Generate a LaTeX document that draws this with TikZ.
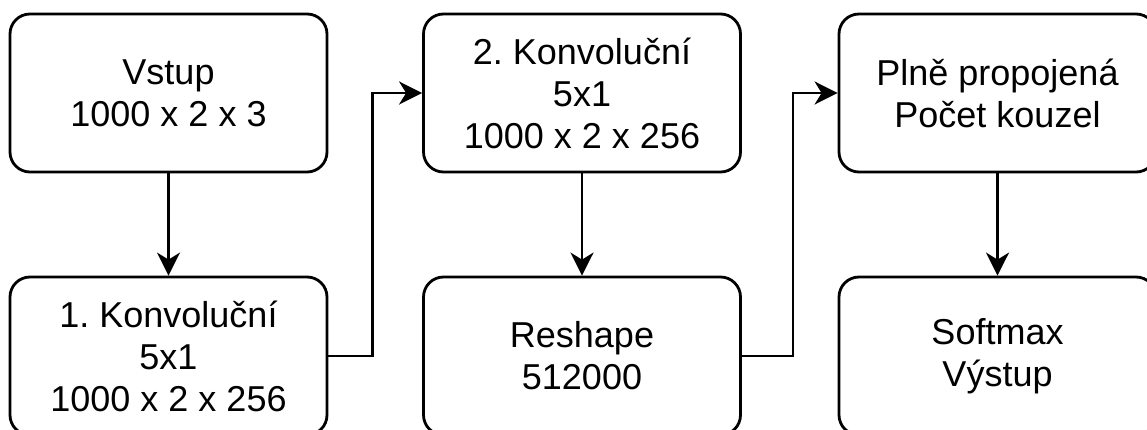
\documentclass[tikz,border=0pt]{standalone}
\usepackage{fontspec}
\setmainfont{Liberation Sans}
\usetikzlibrary{arrows.meta,positioning}
\frenchspacing

\tikzset{
    layer/.style={draw, line width=2.8pt, rounded corners=20pt, fill=white,
        minimum width=317pt, minimum height=158pt, align=center,
        font=\fontsize{36}{42}\selectfont},
    flow/.style={-{Stealth[length=23pt, width=23pt, inset=7pt]}, line width=2.8pt}
}

\begin{document}
\begin{tikzpicture}[x=1pt, y=-1pt]
    % výřez obrázku
    \clip (0,0) rectangle (1147,430);
    \fill[white] (0,0) rectangle (1147,430);

    \node[layer] (vstup) at (168.5,93) {Vstup\\1000 x 2 x 3};
    \node[layer] (konv1) at (168.5,356) {1. Konvoluční\\5x1\\1000 x 2 x 256};
    \node[layer] (konv2) at (582,93) {2. Konvoluční\\5x1\\1000 x 2 x 256};
    \node[layer] (reshape) at (582,356) {Reshape\\512000};
    \node[layer] (plne) at (997.5,93) {Plně propojená\\Počet kouzel};
    \node[layer] (softmax) at (997.5,356) {Softmax\\Výstup};

    \draw[flow] (vstup) -- (konv1);
    \draw[flow] (konv1.east) -- ++(44,0) |- (konv2.west);
    \draw[flow] (konv2) -- (reshape);
    \draw[flow] (reshape.east) -- ++(51,0) |- (plne.west);
    \draw[flow] (plne) -- (softmax);
\end{tikzpicture}
\end{document}
